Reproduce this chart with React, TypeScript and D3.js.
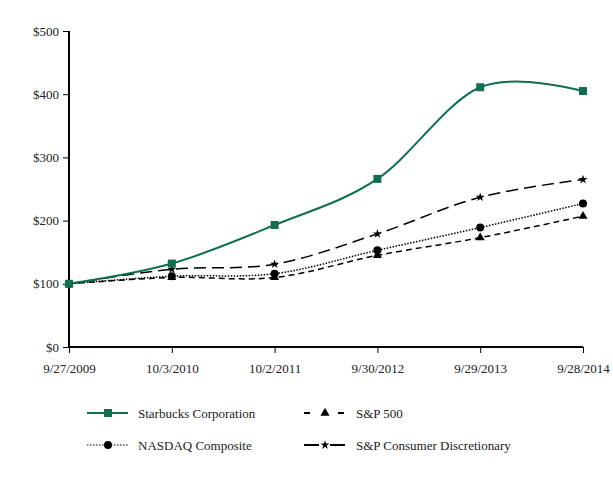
import { useRef, useEffect } from "react";
import * as d3 from "d3";

const dates = ["9/27/2009", "10/3/2010", "10/2/2011", "9/30/2012", "9/29/2013", "9/28/2014"];
const starbucks = [100, 132, 193, 266, 411, 405];
const sp500 = [100, 110, 110, 145, 173, 207];
const nasdaq = [100, 112, 116, 153, 189, 227];
const spDiscretionary = [100, 123, 131, 179, 237, 265];
const yTicks = [0, 100, 200, 300, 400, 500];

type Series = {
  name: string;
  values: number[];
  color: string;
  dash: string;
  marker: "square" | "triangle" | "circle" | "star";
};

const GREEN = "#0f6f4f";

const series: Series[] = [
  { name: "S&P Consumer Discretionary", values: spDiscretionary, color: "#000", dash: "12,6", marker: "star" },
  { name: "S&P 500", values: sp500, color: "#000", dash: "6,4", marker: "triangle" },
  { name: "NASDAQ Composite", values: nasdaq, color: "#000", dash: "1.5,1.5", marker: "circle" },
  { name: "Starbucks Corporation", values: starbucks, color: GREEN, dash: "", marker: "square" },
];

const legendOrder = [
  { s: 3, col: 0, row: 0 },
  { s: 1, col: 1, row: 0 },
  { s: 2, col: 0, row: 1 },
  { s: 0, col: 1, row: 1 },
];

function drawMarker(g: d3.Selection<SVGGElement, unknown, null, undefined>, type: string, x: number, y: number, color: string) {
  if (type === "square") {
    g.append("rect").attr("x", x - 4).attr("y", y - 4).attr("width", 8).attr("height", 8).attr("fill", color);
  } else if (type === "circle") {
    g.append("circle").attr("cx", x).attr("cy", y).attr("r", 4).attr("fill", color);
  } else if (type === "triangle") {
    g.append("path").attr("d", d3.symbol(d3.symbolTriangle, 36)()).attr("transform", `translate(${x},${y})`).attr("fill", color);
  } else {
    g.append("path").attr("d", d3.symbol(d3.symbolStar, 26)()).attr("transform", `translate(${x},${y})`).attr("fill", color);
  }
}

export default function App() {
  const ref = useRef<SVGSVGElement | null>(null);

  useEffect(() => {
    if (!ref.current) return;
    const svg = d3.select(ref.current);
    svg.selectAll("*").remove();

    const x = d3.scalePoint<string>().domain(dates).range([69, 583]);
    const y = d3.scaleLinear().domain([0, 500]).range([347, 31]);
    const font = "'Times New Roman', 'Liberation Serif', serif";

    const yAxis = svg
      .append("g")
      .attr("transform", "translate(69,0)")
      .attr("font-family", font)
      .call(d3.axisLeft(y).tickValues(yTicks).tickSize(6).tickPadding(4).tickFormat((d) => `$${d}`));
    yAxis.select(".domain").attr("stroke-width", 2).attr("d", "M0,31V347");
    yAxis.selectAll("text").attr("font-family", font).attr("font-size", 13).attr("fill", "#222");

    const xAxis = svg
      .append("g")
      .attr("transform", "translate(0,347)")
      .call(d3.axisBottom(x).tickSize(6).tickPadding(11));
    xAxis.select(".domain").attr("stroke-width", 2).attr("d", "M69,0H583");
    xAxis.selectAll("text").attr("font-family", font).attr("font-size", 13).attr("fill", "#222");

    const line = d3
      .line<number>()
      .x((_, i) => x(dates[i]) as number)
      .y((d) => y(d))
      .curve(d3.curveCardinal.tension(0));

    const plot = svg.append("g");
    series.forEach((s) => {
      plot
        .append("path")
        .attr("d", line(s.values) || "")
        .attr("fill", "none")
        .attr("stroke", s.color)
        .attr("stroke-width", s.marker === "square" ? 2 : 1.5)
        .attr("stroke-dasharray", s.dash || null);
      s.values.forEach((v, i) => drawMarker(plot, s.marker, x(dates[i]) as number, y(v), s.color));
    });

    const legend = svg.append("g");
    legendOrder.forEach(({ s, col, row }) => {
      const ser = series[s];
      const lx = col === 0 ? 87 : 304;
      const ly = row === 0 ? 413 : 445;
      if (ser.marker === "square") {
        legend.append("line").attr("x1", lx).attr("x2", lx + 41).attr("y1", ly).attr("y2", ly).attr("stroke", ser.color).attr("stroke-width", 2);
      } else if (ser.marker === "circle") {
        legend.append("line").attr("x1", lx).attr("x2", lx + 41).attr("y1", ly).attr("y2", ly).attr("stroke", "#000").attr("stroke-width", 1.2).attr("stroke-dasharray", "1.5,1.5");
      } else if (ser.marker === "triangle") {
        legend.append("line").attr("x1", lx).attr("x2", lx + 6).attr("y1", ly).attr("y2", ly).attr("stroke", "#000").attr("stroke-width", 2);
        legend.append("line").attr("x1", lx + 34).attr("x2", lx + 40).attr("y1", ly).attr("y2", ly).attr("stroke", "#000").attr("stroke-width", 2);
      } else {
        legend.append("line").attr("x1", lx).attr("x2", lx + 15).attr("y1", ly).attr("y2", ly).attr("stroke", "#000").attr("stroke-width", 2);
        legend.append("line").attr("x1", lx + 26).attr("x2", lx + 41).attr("y1", ly).attr("y2", ly).attr("stroke", "#000").attr("stroke-width", 2);
      }
      drawMarker(legend, ser.marker, lx + 21, ly, ser.color);
      legend
        .append("text")
        .attr("x", col === 0 ? 138 : 356)
        .attr("y", ly)
        .attr("dy", "0.35em")
        .attr("font-family", font)
        .attr("font-size", 13)
        .attr("fill", "#222")
        .text(ser.name);
    });
  }, []);

  return (
    <svg
      ref={ref}
      width={613}
      height={480}
      style={{ display: "block", position: "absolute", left: 0, top: 0, background: "#fff" }}
    />
  );
}
